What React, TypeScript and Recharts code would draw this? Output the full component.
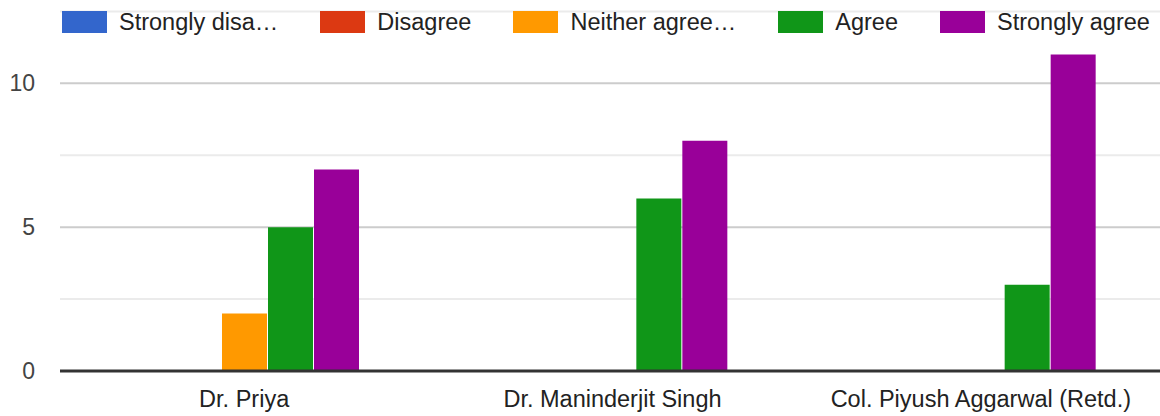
import { Bar, BarChart, CartesianGrid, ReferenceLine, XAxis, YAxis } from "recharts";

const people = ["Dr. Priya", "Dr. Maninderjit Singh", "Col. Piyush Aggarwal (Retd.)"];
const stronglyDisagree = [0, 0, 0];
const disagree = [0, 0, 0];
const neither = [2, 0, 0];
const agree = [5, 6, 3];
const stronglyAgree = [7, 8, 11];

const legendLabels = ["Strongly disa\u2026", "Disagree", "Neither agree\u2026", "Agree", "Strongly agree"];
const yTicks = [0, 2.5, 5, 7.5, 10];

const series = [
  { key: "sd", label: legendLabels[0], color: "#3366cc", values: stronglyDisagree },
  { key: "d", label: legendLabels[1], color: "#dc3912", values: disagree },
  { key: "n", label: legendLabels[2], color: "#ff9900", values: neither },
  { key: "a", label: legendLabels[3], color: "#109618", values: agree },
  { key: "sa", label: legendLabels[4], color: "#990099", values: stronglyAgree },
];

const data = people.map((name, i) => {
  const row: Record<string, string | number> = { name };
  series.forEach((s) => {
    row[s.key] = s.values[i];
  });
  return row;
});

const font = "Arial, 'Liberation Sans', sans-serif";

// major lines at 0/5/10, light ones at the halves
const gridLine = (props: any) => {
  const major = props.index % 2 === 0;
  return (
    <line
      key={`g-${props.index}`}
      x1={props.x1}
      x2={props.x2}
      y1={props.y1}
      y2={props.y2}
      stroke={major ? "#cccccc" : "#ebebeb"}
      strokeWidth={2}
    />
  );
};

export default function App() {
  return (
    <div style={{ position: "absolute", left: 0, top: 0, width: 1160, height: 416, background: "#fff", fontFamily: font }}>
      <BarChart
        width={1160}
        height={416}
        data={data}
        margin={{ top: 11.4, right: -5, bottom: 0, left: 0 }}
        barSize={45}
        barGap={1}
      >
        <CartesianGrid vertical={false} horizontal={gridLine} />
        <XAxis
          dataKey="name"
          height={45}
          axisLine={false}
          tickLine={false}
          tickSize={0}
          tickMargin={19}
          tick={{ fill: "#222", fontSize: 23.5, fontFamily: font }}
          interval={0}
        />
        <YAxis
          domain={[0, 12.5]}
          ticks={yTicks}
          tickFormatter={(v: number) => (v % 5 === 0 ? String(v) : "")}
          axisLine={false}
          tickLine={false}
          tickSize={0}
          tickMargin={25}
          width={60}
          tick={{ fill: "#444", fontSize: 23, fontFamily: font }}
        />
        {series.map((s) => (
          <Bar key={s.key} dataKey={s.key} name={s.label} fill={s.color} isAnimationActive={false} />
        ))}
        <ReferenceLine y={0} stroke="#333333" strokeWidth={3} />
      </BarChart>
      <div
        style={{
          position: "absolute",
          left: 62,
          top: 11,
          display: "flex",
          alignItems: "center",
          fontSize: 23.5,
          color: "#222",
          whiteSpace: "nowrap",
        }}
      >
        {series.map((s) => (
          <div key={s.key} style={{ display: "flex", alignItems: "center", marginRight: 42 }}>
            <div style={{ width: 45, height: 22, background: s.color, marginRight: 12 }} />
            <span style={{ lineHeight: "22px" }}>{s.label}</span>
          </div>
        ))}
      </div>
    </div>
  );
}
